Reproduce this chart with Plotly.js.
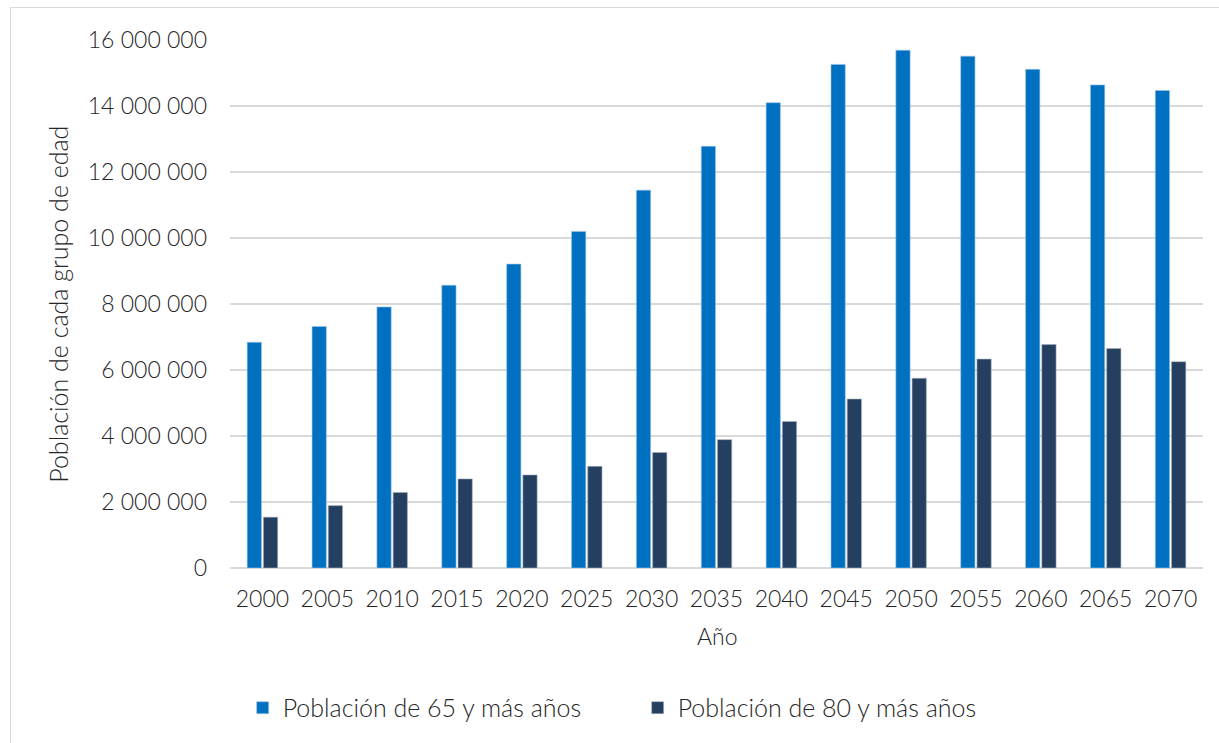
<!DOCTYPE html>
<html>
<head>
<meta charset="utf-8">
<script src="https://cdn.plot.ly/plotly-3.0.1.min.js"></script>
<style>
html,body{margin:0;padding:0;background:#fff;overflow:hidden;}
#frame{position:absolute;left:10px;top:7px;width:1220px;height:760px;border:1px solid #d9d9d9;box-sizing:border-box;pointer-events:none;z-index:5;}
#chart{position:absolute;left:0;top:0;width:1219px;height:743px;}
</style>
</head>
<body>
<div id="chart"></div>
<div id="frame"></div>
<script>
const years = ["2000","2005","2010","2015","2020","2025","2030","2035","2040","2045","2050","2055","2060","2065","2070"];
const pob65 = [6840000,7320000,7910000,8570000,9210000,10200000,11450000,12780000,14100000,15260000,15690000,15510000,15110000,14640000,14470000];
const pob80 = [1540000,1890000,2290000,2700000,2820000,3080000,3500000,3890000,4440000,5120000,5750000,6330000,6770000,6650000,6250000];
const seriesNames = ["Población de 65 y más años","Población de 80 y más años"];
const yTicks = [0,2000000,4000000,6000000,8000000,10000000,12000000,14000000,16000000];
const xTitle = "Año";
const yTitle = "Población de cada grupo de edad";

const fontFam = "Lato, 'Open Sans', sans-serif";
const txt = "#262626";
const traces = [
  {type:"bar", x:years, y:pob65, name:seriesNames[0],
   marker:{color:"#0070C0", line:{color:"#9DC3E6", width:0.6}}, hoverinfo:"x+y"},
  {type:"bar", x:years, y:pob80, name:seriesNames[1],
   marker:{color:"#243F60", line:{color:"#A6B0BE", width:0.6}}, hoverinfo:"x+y"}
];
const layout = {
  width:1219, height:743,
  margin:{l:230, r:16, t:40, b:175},
  paper_bgcolor:"#ffffff", plot_bgcolor:"#ffffff",
  separators:", ",
  barmode:"group", bargap:0.5, bargroupgap:0.12,
  font:{family:fontFam, color:txt, size:23, weight:300},
  xaxis:{type:"category", showgrid:false, zeroline:false, showline:false,
    ticks:"", ticklabelstandoff:15, tickfont:{size:23, color:txt, weight:300}},
  yaxis:{range:[0,16000000], tickvals:yTicks, tickformat:",d",
    showgrid:true, gridcolor:"#d9d9d9", gridwidth:1.3, zeroline:true, zerolinecolor:"#d9d9d9", zerolinewidth:1.3,
    showline:false, ticks:"", ticklen:0, ticklabelstandoff:22, tickfont:{size:23, color:txt, weight:300},
    automargin:false},
  annotations:[
    {text:xTitle, xref:"paper", yref:"paper", x:0.5, y:-0.1287, xanchor:"center", yanchor:"middle",
     showarrow:false, font:{size:23, color:txt, weight:300}},
    {text:yTitle, xref:"paper", yref:"paper", x:-0.177, y:0.5, xanchor:"center", yanchor:"middle",
     textangle:-90, showarrow:false, font:{size:25, color:txt, weight:300}}
  ],
  legend:{orientation:"h", x:0.013, xanchor:"left", y:-0.265, yanchor:"middle",
    font:{size:25, color:txt, weight:300}, entrywidth:350, entrywidthmode:"pixels",
    itemclick:false, itemdoubleclick:false, bgcolor:"rgba(0,0,0,0)"},
  showlegend:true
};
Plotly.newPlot("chart", traces, layout, {displayModeBar:false, staticPlot:true});
</script>
</body>
</html>
